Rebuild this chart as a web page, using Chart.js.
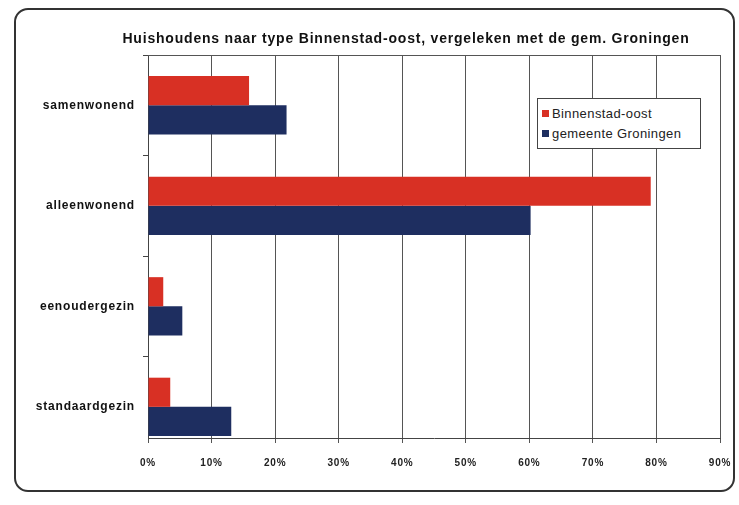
<!DOCTYPE html>
<html>
<head>
<meta charset="utf-8">
<script src="https://cdn.jsdelivr.net/npm/chart.js@4.4.1/dist/chart.umd.min.js"></script>
<style>
  body { margin: 0; background: #fff; }
  #wrap { position: relative; width: 739px; height: 505px; }
  #frame {
    position: absolute; left: 14px; top: 8px; width: 717px; height: 480px;
    border: 2px solid #333; border-radius: 14px; pointer-events: none;
  }
  #title {
    position: absolute; left: 106px; top: 30px; width: 600px; text-align: center;
    font: bold 14px "Liberation Sans", Arial, sans-serif; letter-spacing: 0.8px;
    line-height: 17px; color: #111; white-space: nowrap;
  }
  #legend {
    position: absolute; left: 537px; top: 98px; width: 158px;
    border: 1px solid #444; background: #fff; padding: 5px 0 4px 4px;
    font: 13px "Liberation Sans", Arial, sans-serif; letter-spacing: 0.4px; color: #222;
  }
  #legend div { height: 20px; line-height: 20px; }
  #legend span { display: inline-block; width: 7px; height: 7px; margin-right: 3px; vertical-align: 1px; }
</style>
</head>
<body>
<div id="wrap">
  <canvas id="chart" width="739" height="505"></canvas>
  <div id="frame"></div>
  <div id="title">Huishoudens naar type Binnenstad-oost, vergeleken met de gem. Groningen</div>
  <div id="legend"></div>
</div>
<script>
// Data
const categories = ['samenwonend', 'alleenwonend', 'eenoudergezin', 'standaardgezin'];
const binnenstadOost = [15.9, 79.1, 2.4, 3.5];
const gemeenteGroningen = [21.8, 60.2, 5.4, 13.1];
const xTicks = [0, 10, 20, 30, 40, 50, 60, 70, 80, 90];

const font = "'Liberation Sans', Arial, sans-serif";

// the scan has wide lettering, so space the canvas text out a bit
const spacing = {
    id: 'spacing',
    beforeUpdate(chart) { chart.ctx.letterSpacing = '0.8px'; },
    beforeDraw(chart) { chart.ctx.letterSpacing = '0.8px'; }
};

// top border of the plot area
const topLine = {
    id: 'topLine',
    afterDraw(chart) {
        const a = chart.chartArea;
        const c = chart.ctx;
        c.save();
        c.strokeStyle = '#555';
        c.lineWidth = 1;
        c.beginPath();
        c.moveTo(a.left, a.top + 0.5);
        c.lineTo(a.right, a.top + 0.5);
        c.stroke();
        c.restore();
    }
};

// category index on a linear axis, so the last group can sit on the x axis like in the original
const toPoints = values => values.map((v, i) => ({ x: v, y: i }));

document.addEventListener('DOMContentLoaded', function() {
    const ctx = document.getElementById('chart').getContext('2d');
    const chart = new Chart(ctx, {
        type: 'bar',
        data: {
            datasets: [{
                label: 'Binnenstad-oost',
                data: toPoints(binnenstadOost),
                backgroundColor: 'rgb(216, 48, 36)',
                borderWidth: 0
            }, {
                label: 'gemeente Groningen',
                data: toPoints(gemeenteGroningen),
                backgroundColor: 'rgb(30, 46, 96)',
                borderWidth: 0
            }]
        },
        plugins: [spacing, topLine],
        options: {
            indexAxis: 'y',
            responsive: false,
            animation: false,
            devicePixelRatio: 1,
            categoryPercentage: 0.58,
            barPercentage: 1.0,
            layout: {
                padding: { left: 30, right: 19, top: 55, bottom: 22 }
            },
            plugins: {
                legend: { display: false },
                tooltip: { enabled: false },
                title: { display: false }
            },
            scales: {
                x: {
                    min: 0,
                    max: 90,
                    afterBuildTicks: axis => {
                        axis.ticks = xTicks.map(v => ({ value: v }));
                    },
                    afterFit: axis => {
                        axis.paddingLeft = 0;
                        axis.paddingRight = 0;
                    },
                    grid: {
                        color: '#555',
                        lineWidth: 1,
                        tickLength: 5,
                        drawTicks: true
                    },
                    border: { color: '#444', width: 1 },
                    ticks: {
                        color: '#222',
                        font: { family: font, size: 10, weight: 'bold' },
                        padding: 14,
                        callback: value => value + '%'
                    }
                },
                y: {
                    type: 'linear',
                    reverse: true,
                    offset: false,
                    min: -0.5,
                    max: 3.31,
                    afterBuildTicks: axis => {
                        axis.ticks = categories.map((c, i) => ({ value: i }));
                    },
                    afterFit: axis => { axis.width = 118; },
                    grid: {
                        offset: true,
                        drawOnChartArea: false,
                        color: '#444',
                        tickLength: 5
                    },
                    border: { color: '#444', width: 1 },
                    ticks: {
                        color: '#111',
                        font: { family: font, size: 12, weight: 'bold' },
                        padding: 8,
                        callback: value => categories[value]
                    }
                }
            }
        }
    });

    // legend built from the chart's datasets
    const legend = document.getElementById('legend');
    chart.data.datasets.forEach(ds => {
        const row = document.createElement('div');
        const box = document.createElement('span');
        box.style.background = ds.backgroundColor;
        row.appendChild(box);
        row.appendChild(document.createTextNode(ds.label));
        legend.appendChild(row);
    });
});
</script>
</body>
</html>
